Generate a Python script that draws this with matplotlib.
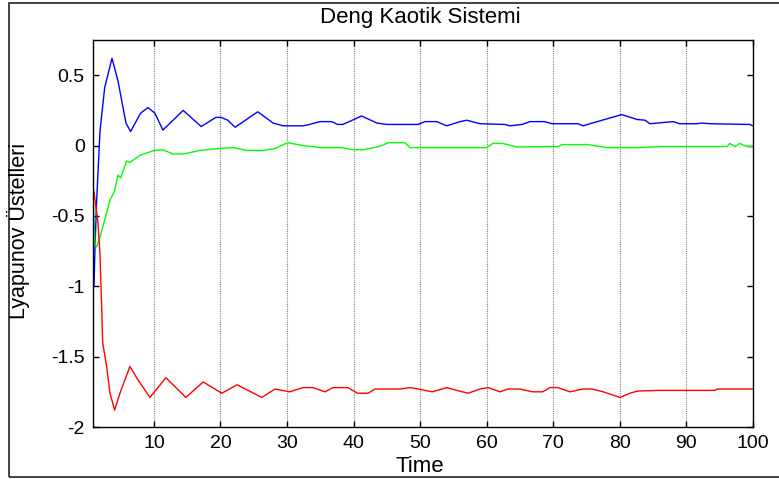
# Deng chaotic system - Lyapunov exponents over time
import matplotlib.pyplot as plt
from matplotlib.patches import Rectangle

plt.rcParams['font.family'] = ['Liberation Sans', 'DejaVu Sans']

# Values
t_blue = [0.85, 1.0, 1.15, 1.4, 1.9, 2.6, 3.7, 4.6, 5.8, 6.5, 8.0, 9.1, 10.15, 11.35,
          14.4, 17.1, 19.3, 20.1, 21.1, 22.2, 25.6, 27.9, 29.4, 32.4, 33.4, 34.9,
          36.7, 37.6, 38.4, 41.2, 43.5, 45.0, 49.7, 50.7, 52.5, 54.0, 56.0, 57.0,
          59.0, 62.7, 63.5, 65.3, 66.5, 68.7, 69.8, 73.7, 74.5, 75.5, 80.3, 82.6,
          83.8, 84.5, 88.0, 89.0, 91.6, 92.3, 93.5, 99.5, 100]
le_blue = [-1.0, -1.0, -0.72, -0.39, 0.1, 0.41, 0.62, 0.46, 0.16, 0.1, 0.23, 0.27, 0.23, 0.11,
           0.25, 0.135, 0.2, 0.2, 0.18, 0.13, 0.24, 0.16, 0.14, 0.14, 0.15, 0.17,
           0.17, 0.15, 0.15, 0.21, 0.16, 0.15, 0.15, 0.17, 0.17, 0.14, 0.17, 0.18,
           0.155, 0.15, 0.14, 0.15, 0.17, 0.17, 0.155, 0.155, 0.14, 0.155, 0.22, 0.185,
           0.18, 0.155, 0.17, 0.155, 0.155, 0.16, 0.155, 0.15, 0.14]

t_green = [0.9, 1.14, 1.4, 1.9, 3.4, 4.1, 4.6, 5.0, 5.9, 6.4, 7.9, 10.0, 11.35, 12.85,
           14.4, 16.9, 19.9, 21.9, 24.0, 26.4, 28.2, 30.1, 32.4, 35.2, 38.2, 39.9,
           41.4, 44.0, 45.2, 47.7, 48.5, 60.0, 60.9, 62.4, 64.5, 70.7, 71.3, 75.2,
           78.1, 82.6, 86.5, 96.1, 96.5, 97.3, 98.0, 99.1, 100]
le_green = [-0.4, -0.7, -0.72, -0.65, -0.39, -0.32, -0.21, -0.23, -0.11, -0.12, -0.07, -0.035, -0.03, -0.06,
            -0.06, -0.035, -0.02, -0.015, -0.035, -0.035, -0.02, 0.02, 0.0, -0.015, -0.015, -0.03,
            -0.03, -0.005, 0.02, 0.02, -0.015, -0.015, 0.015, 0.015, -0.01, -0.007, 0.007, 0.007,
            -0.015, -0.015, -0.007, -0.007, 0.015, -0.007, 0.015, -0.007, -0.007]

t_red = [0.85, 1.0, 1.6, 1.9, 2.05, 2.2, 2.3, 2.9, 3.4, 4.1, 4.9, 6.4, 7.4, 9.4, 11.8,
         14.8, 17.4, 20.2, 22.5, 26.2, 28.2, 30.4, 32.4, 33.9, 35.7, 36.9, 39.1,
         40.6, 42.2, 43.2, 47.0, 48.5, 49.7, 51.8, 54.0, 55.5, 57.2, 59.0, 60.2,
         62.0, 63.2, 65.0, 66.9, 68.4, 69.5, 70.7, 72.5, 74.5, 75.8, 77.5, 80.0,
         81.5, 82.6, 85.6, 94.3, 94.6, 100]
le_red = [-0.3, -0.33, -0.55, -0.77, -1.0, -1.22, -1.4, -1.57, -1.76, -1.88, -1.76, -1.57, -1.65, -1.79, -1.65,
          -1.79, -1.68, -1.76, -1.70, -1.79, -1.73, -1.75, -1.72, -1.72, -1.75, -1.72, -1.72,
          -1.76, -1.76, -1.73, -1.73, -1.72, -1.73, -1.75, -1.72, -1.74, -1.76, -1.73, -1.72,
          -1.75, -1.73, -1.73, -1.75, -1.75, -1.72, -1.72, -1.75, -1.73, -1.73, -1.75, -1.79,
          -1.76, -1.745, -1.74, -1.74, -1.73, -1.73]

x_ticks = [10, 20, 30, 40, 50, 60, 70, 80, 90, 100]
y_ticks = [-2, -1.5, -1, -0.5, 0, 0.5]
y_ticklabels = ['-2', '-1.5', '-1', '-0.5', '0', '0.5']

W, H = 779, 479
fig = plt.figure(figsize=(W / 100, H / 100), dpi=100)
ax = fig.add_axes([93 / W, 1 - 427 / H, 660 / W, 387 / H])

ax.plot(t_blue, le_blue, color='#0000ff', lw=1)
ax.plot(t_green, le_green, color='#00ff00', lw=1)
ax.plot(t_red, le_red, color='#ff0000', lw=1)

ax.set_xlim(0.85, 100)
ax.set_ylim(-2, 0.75)
ax.set_xticks(x_ticks)
ax.set_yticks(y_ticks)
ax.set_yticklabels(y_ticklabels)
ax.tick_params(direction='in', length=4, width=1, top=True, right=True,
               labelsize=14, pad=6)
ax.xaxis.grid(True, linestyle=(0, (1, 1)), color='#808080', lw=0.8)
for s in ax.spines.values():
    s.set_linewidth(1)

# MATLAB-style labels placed in figure pixels
fig.text(420 / W, 1 - 18 / H, 'Deng Kaotik Sistemi', ha='center', va='center', fontsize=16)
fig.text(420 / W, 1 - 466 / H, 'Time', ha='center', va='center', fontsize=16)
fig.text(18 / W, 1 - 231 / H, 'Lyapunov Üstelleri', ha='center', va='center',
         rotation=90, fontsize=15.5)

# outer frame around the figure
fig.patches.append(Rectangle((9 / W, 2 / H), 1 - 9 / W + 0.01, 1 - 5 / H,
                             transform=fig.transFigure, fill=False,
                             edgecolor='#333333', lw=1.3))

fig.savefig('out.png', dpi=100)
